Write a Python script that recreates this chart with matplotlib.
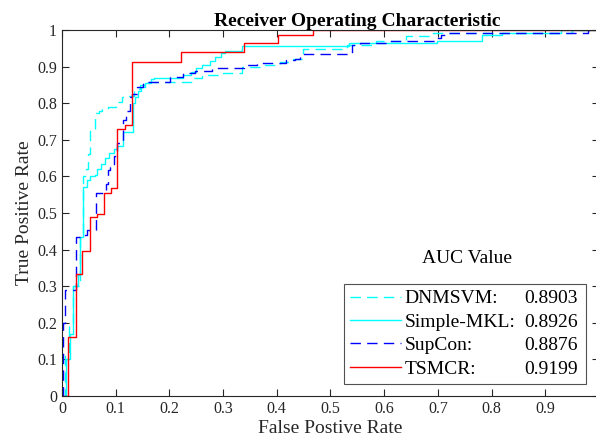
import matplotlib
matplotlib.use("Agg")
import matplotlib.pyplot as plt

plt.rcParams['font.family'] = ['Liberation Serif', 'DejaVu Serif']

# ROC step points: x where the curve rises, y after the rise
dnm_fpr = [0, 0.005, 0.013, 0.02, 0.033, 0.04, 0.045, 0.048, 0.052, 0.062, 0.069, 0.075,
           0.086, 0.1, 0.111, 0.125, 0.135, 0.145, 0.16, 0.245, 0.26, 0.3, 0.335,
           0.37, 0.406, 0.43, 0.449, 0.53, 0.585, 0.64, 0.69, 0.95, 1.0]
dnm_tpr = [0, 0.12, 0.2, 0.3, 0.44, 0.60, 0.62, 0.66, 0.727, 0.772, 0.778, 0.785,
           0.79, 0.804, 0.816, 0.82, 0.84, 0.85, 0.859, 0.869, 0.877, 0.882, 0.9,
           0.905, 0.913, 0.92, 0.948, 0.96, 0.97, 0.984, 0.993, 1.0, 1.0]

mkl_fpr = [0, 0.008, 0.015, 0.02, 0.03, 0.033, 0.04, 0.047, 0.053, 0.061, 0.066,
           0.072, 0.08, 0.088, 0.096, 0.103, 0.114, 0.133, 0.136, 0.141, 0.147,
           0.155, 0.165, 0.171, 0.226, 0.24, 0.25, 0.26, 0.275, 0.285, 0.297,
           0.304, 0.335, 0.534, 0.698, 0.782, 0.82, 0.93, 1.0]
mkl_tpr = [0, 0.1, 0.17, 0.3, 0.33, 0.435, 0.57, 0.59, 0.6, 0.605, 0.62,
           0.635, 0.65, 0.665, 0.675, 0.683, 0.72, 0.80, 0.816, 0.832, 0.845,
           0.855, 0.865, 0.869, 0.877, 0.885, 0.895, 0.905, 0.915, 0.925, 0.938,
           0.943, 0.957, 0.964, 0.971, 0.986, 0.993, 1.0, 1.0]

sup_fpr = [0, 0.002, 0.006, 0.027, 0.035, 0.046, 0.064, 0.077, 0.082, 0.086,
           0.089, 0.097, 0.102, 0.114, 0.12, 0.127, 0.131, 0.139, 0.151, 0.201,
           0.226, 0.248, 0.279, 0.338, 0.363, 0.418, 0.434, 0.443, 0.54, 0.555,
           0.611, 0.698, 0.705, 0.713, 0.98, 1.0]
sup_tpr = [0, 0.2, 0.29, 0.435, 0.44, 0.454, 0.554, 0.56, 0.58, 0.617,
           0.627, 0.655, 0.69, 0.754, 0.78, 0.818, 0.825, 0.845, 0.859, 0.872,
           0.882, 0.887, 0.895, 0.904, 0.909, 0.918, 0.922, 0.934, 0.959, 0.964,
           0.97, 0.977, 0.986, 0.993, 1.0, 1.0]

tsm_fpr = [0, 0.012, 0.026, 0.037, 0.052, 0.066, 0.079, 0.091, 0.103, 0.117,
           0.131, 0.221, 0.338, 0.403, 0.467, 1.0]
tsm_tpr = [0, 0.16, 0.332, 0.396, 0.49, 0.496, 0.554, 0.567, 0.729, 0.74,
           0.913, 0.939, 0.964, 0.986, 1.0, 1.0]

names = ['DNMSVM:', 'Simple-MKL:', 'SupCon:', 'TSMCR:']
auc = ['0.8903', '0.8926', '0.8876', '0.9199']

fig = plt.figure(figsize=(5.96, 4.47), dpi=100)
ax = fig.add_axes([62/596, 51/447, 537/596, 366/447])

dash = (7.5, 4.5)
l1, = ax.plot(dnm_fpr, dnm_tpr, color='#00ffff', lw=1.0, dashes=dash, drawstyle='steps-post')
l2, = ax.plot(mkl_fpr, mkl_tpr, color='#00ffff', lw=1.0, drawstyle='steps-post')
l3, = ax.plot(sup_fpr, sup_tpr, color='#0000ff', lw=1.0, dashes=dash, drawstyle='steps-post')
l4, = ax.plot(tsm_fpr, tsm_tpr, color='#ff0000', lw=1.0, drawstyle='steps-post')

ax.set_xlim(0, 1)
ax.set_ylim(0, 1)
ax.set_xticks([i/10 for i in range(11)])
ax.set_xticklabels(['0'] + ['0.%d' % i for i in range(1, 10)] + [''])
ax.set_yticks([i/10 for i in range(11)])
ax.set_yticklabels(['0'] + ['0.%d' % i for i in range(1, 10)] + ['1'])
ax.tick_params(direction='in', top=True, right=True, labelsize=11.5,
               length=5, width=0.8, colors='#262626')
for s in ax.spines.values():
    s.set_color('#262626')
    s.set_linewidth(0.8)

ax.set_title('Receiver Operating Characteristic', fontsize=14, fontweight='bold',
             x=0.549, pad=3)
ax.set_xlabel('False Postive Rate', fontsize=14, color='#262626', labelpad=2)
ax.set_ylabel('True Positive Rate', fontsize=14, color='#262626', labelpad=3)

leg = ax.legend([l1, l2, l3, l4], names, loc='lower left',
                bbox_to_anchor=(0.525, 0.033, 0.451, 0.273), mode='expand',
                fontsize=14, frameon=True, fancybox=False, edgecolor='#262626',
                handlelength=2.6, handletextpad=0.2, labelspacing=0.3,
                borderpad=0.32, borderaxespad=0)
leg.get_frame().set_linewidth(0.8)

# AUC values right-aligned on the legend rows
fig.canvas.draw()
inv = ax.transAxes.inverted()
for v, t in zip(auc, leg.get_texts()):
    bb = t.get_window_extent()
    yy = inv.transform((0, (bb.y0 + bb.y1) / 2))[1]
    ax.text(0.961, yy, v, transform=ax.transAxes, ha='right', va='center',
            fontsize=14, zorder=10)

ax.text(0.754, 0.377, 'AUC Value', transform=ax.transAxes, ha='center', va='center', fontsize=14)

fig.savefig('out.png', dpi=100)
